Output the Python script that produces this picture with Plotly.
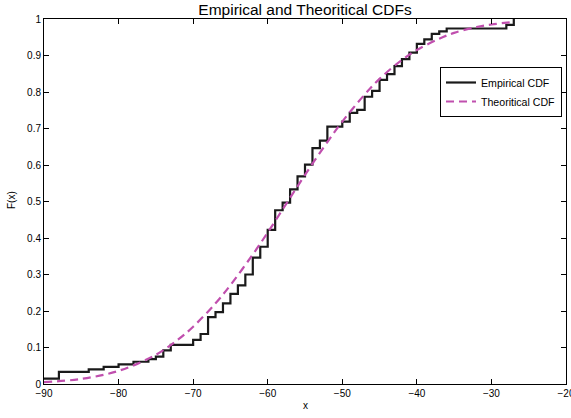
import plotly.graph_objects as go

# Empirical CDF: jump locations and the CDF level after each jump
emp_x = [-90, -88, -84, -82, -80, -78, -76, -75, -74, -73, -70, -69, -68, -67, -66,
         -65, -64, -63, -62, -61, -60, -59, -58, -57, -56, -55, -54, -53, -52, -50,
         -49, -48, -47, -46, -45, -44, -43, -42, -41, -40, -39, -38, -37, -36, -28, -27]
emp_F = [0.015, 0.033, 0.040, 0.047, 0.054, 0.061, 0.068, 0.075, 0.092, 0.107, 0.121,
         0.137, 0.183, 0.197, 0.221, 0.247, 0.270, 0.300, 0.346, 0.376, 0.422, 0.476,
         0.497, 0.533, 0.569, 0.601, 0.646, 0.667, 0.705, 0.719, 0.743, 0.751, 0.787,
         0.803, 0.833, 0.849, 0.871, 0.890, 0.908, 0.932, 0.944, 0.959, 0.966, 0.974,
         0.984, 1.0]

# Theoretical CDF: points
theo_x = [-90, -85, -80, -75, -72, -70, -67, -65, -62, -60, -57.5, -55, -52, -50,
          -47, -45, -42, -40, -37, -35, -32, -30, -27]
theo_F = [0.005, 0.014, 0.036, 0.080, 0.122, 0.157, 0.221, 0.271, 0.355, 0.415, 0.494,
          0.573, 0.663, 0.719, 0.793, 0.836, 0.888, 0.915, 0.946, 0.962, 0.978, 0.985, 0.992]

x_ticks = [-90, -80, -70, -60, -50, -40, -30, -20]
y_ticks = [0, 0.1, 0.2, 0.3, 0.4, 0.5, 0.6, 0.7, 0.8, 0.9, 1]
y_tick_text = ["0", "0.1", "0.2", "0.3", "0.4", "0.5", "0.6", "0.7", "0.8", "0.9", "1"]

fig = go.Figure()
fig.add_trace(go.Scatter(
    x=emp_x, y=emp_F, mode="lines", line_shape="hv", name="Empirical CDF",
    line=dict(color="#1a1a1a", width=2.2)))
fig.add_trace(go.Scatter(
    x=theo_x, y=theo_F, mode="lines", line_shape="spline", name="Theoritical CDF",
    line=dict(color="#C04FAE", width=2.2, dash="8px,5px")))

font = "Liberation Sans, Arial, sans-serif"
W, H = 571, 418
L, R, T, B = 44, 5, 19, 34
fig.update_layout(
    width=W, height=H,
    margin=dict(l=L, r=R, t=T, b=B, autoexpand=False),
    paper_bgcolor="white", plot_bgcolor="white",
    font=dict(family=font, size=10, color="black"),
    title=dict(text="Empirical and Theoritical CDFs", x=(L + (W - R - L) / 2) / W,
               xanchor="center", y=1 - 10 / H, yanchor="middle",
               font=dict(size=15.5, family=font)),
    showlegend=True,
    legend=dict(x=(440 - L) / (W - L - R), xanchor="left",
                y=((H - B) - 67) / (H - T - B), yanchor="top",
                bordercolor="black", borderwidth=1, bgcolor="white",
                font=dict(size=10.6, family=font), itemwidth=30,
                tracegroupgap=0),
    xaxis=dict(range=[-90, -20], tickvals=x_ticks, ticks="inside", ticklen=5,
               tickcolor="black", showline=True, linecolor="black", linewidth=1,
               mirror="ticks", showgrid=False, zeroline=False, automargin=False,
               ticklabeloverflow="allow"),
    yaxis=dict(range=[0, 1], tickvals=y_ticks, ticktext=y_tick_text, ticks="inside",
               ticklen=5, tickcolor="black", showline=True, linecolor="black",
               linewidth=1, mirror="ticks", showgrid=False, zeroline=False,
               automargin=False, ticklabeloverflow="allow"),
    annotations=[
        dict(text="x", xref="paper", yref="paper", x=0.5, y=-(405 - (H - B)) / (H - T - B),
             xanchor="center", yanchor="middle", showarrow=False, font=dict(size=10)),
        dict(text="F(x)", xref="paper", yref="paper", x=-(L - 11) / (W - L - R),
             y=((H - B) - 200) / (H - T - B), xanchor="center", yanchor="middle",
             textangle=-90, showarrow=False, font=dict(size=10)),
    ],
)

fig.write_html(
    "out.html",
    config={"displayModeBar": False},
    post_script="document.body.style.margin='0';document.body.style.overflow='hidden';",
)
